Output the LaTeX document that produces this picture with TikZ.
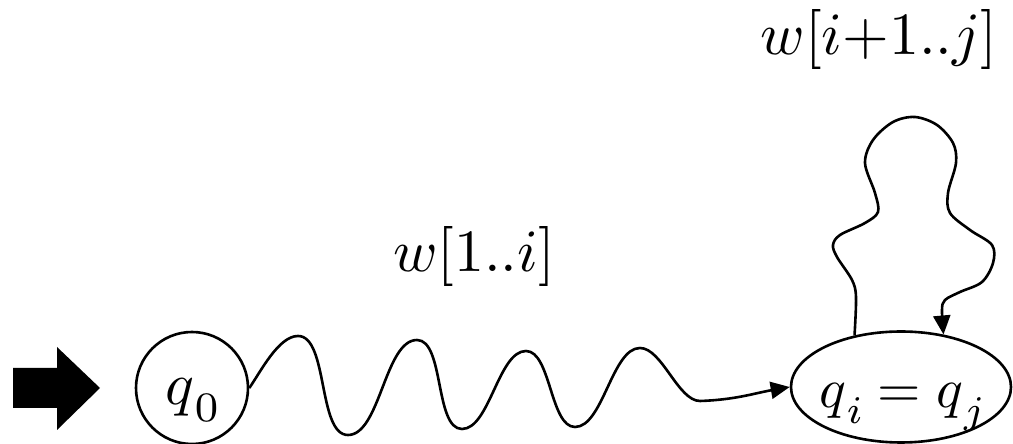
\documentclass[tikz,border=0pt]{standalone}
\usetikzlibrary{arrows.meta,shapes.geometric}
\newcommand\mysub[1]{\raisebox{-2.8pt}{$\scriptstyle #1$}}
\tikzset{
  big/.style={scale=6, inner sep=0pt},
  line/.style={line width=2.6pt, line join=round},
  tip/.style={-{Triangle[length=19pt,width=17pt]}},
  wave/.style={looseness=0.7},
}
\begin{document}
\begin{tikzpicture}[x=1pt,y=1pt]
\useasboundingbox (0,0) rectangle (1013,444);
% start arrow
\fill (13,76) -- (57,76) -- (57,97) -- (100,56) -- (57,14) -- (57,36) -- (13,36) -- cycle;
% states
\node[circle, draw, line width=2.6pt, minimum size=112pt, inner sep=0pt] (q0) at (192,56) {};
\node[big, anchor=base] (q0t) at (192,39) {$q$\mysub{0}};
\node[ellipse, draw, line width=2.6pt, minimum width=220pt, minimum height=111pt, inner sep=0pt] (qij) at (901,57) {};
\node[big, scale=0.93, anchor=base] (qijt) at (902,36) {$q$\mysub{i}$\;=\;$$q$\mysub{j}};
% labels
\node[big, anchor=base] (l1) at (474,172) {$w[1..i]$};
\node[big, anchor=base] (l2) at (879,389) {$w[i{+}1..j]$};
% wavy transition
\draw[line, tip] (q0.east) to[out=55,in=180,wave] (298,108)
  to[out=0,in=180,wave] (348,9)
  to[out=0,in=180,wave] (417,104)
  to[out=0,in=180,wave] (462,15)
  to[out=0,in=180,wave] (526,93)
  to[out=0,in=180,wave] (575,17)
  to[out=0,in=180,wave] (640,96)
  to[out=0,in=180,wave] (700,43)
  to[out=2,in=190] (qij.west);
% self loop
\draw[line, tip] plot[smooth, tension=0.55] coordinates {
  (qij.132) (856,147) (852,164) (837,187) (833,199) (840,209) (865,221)
  (878,232) (875,251) (865,281) (873,304) (893,322) (915,327) (937,319)
  (953,301) (956,281) (948,251) (950,231) (970,214) (992,199) (993,181)
  (982,162) (960,152) (945,144) (942,134) (qij.51)};
\end{tikzpicture}
\end{document}
